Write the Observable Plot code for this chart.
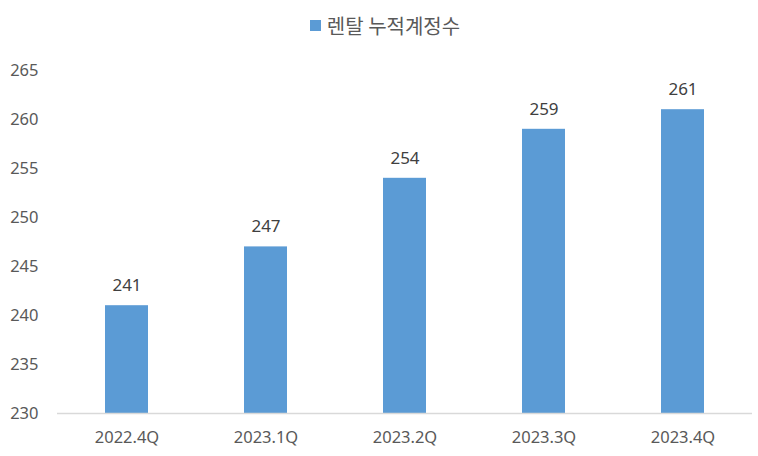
<!DOCTYPE html>
<html><head><meta charset="utf-8">
<script src="https://cdn.jsdelivr.net/npm/d3@7"></script>
<script src="https://cdn.jsdelivr.net/npm/@observablehq/plot@0.6"></script>
<style>
body{margin:0;background:#fff;font-family:"Noto Sans","Noto Sans CJK KR",sans-serif;}
#legend{height:50px;display:flex;align-items:center;justify-content:center;color:#595959;font-size:20px;font-family:"Noto Sans CJK KR",sans-serif;padding-left:12px;}
#legend span.sw{display:inline-block;width:11px;height:11px;background:#5B9BD5;margin-right:6px;}
</style></head>
<body>
<div id="legend"><span class="sw"></span><span>렌탈 누적계정수</span></div>
<div id="chart"></div>
<script>
const categories = ["2022.4Q","2023.1Q","2023.2Q","2023.3Q","2023.4Q"];
const values = [241,247,254,259,261];
const yTicks = [230,235,240,245,250,255,260,265];
const seriesName = "렌탈 누적계정수";
const data = categories.map((c,i)=>({cat:c, v:values[i]}));
const chart = Plot.plot({
  width:758, height:406,
  marginLeft:57, marginRight:6, marginTop:20, marginBottom:43,
  style:{fontSize:"16.5px", color:"#595959", fontFamily:"Noto Sans, sans-serif", background:"#fff"},
  x:{domain:categories, paddingInner:0.69, paddingOuter:0.345, label:null, tickSize:0, tickPadding:18},
  y:{domain:[230,265], ticks:yTicks, label:null, tickSize:0, tickPadding:19},
  marks:[
    Plot.barY(data,{x:"cat", y1:230, y2:"v", fill:"#5B9BD5"}),
    Plot.ruleY([230],{stroke:"#d9d9d9", strokeWidth:1.5}),
    Plot.text(data,{x:"cat", y:"v", text:d=>String(d.v), dy:-20, fill:"#404040", fontSize:17})
  ]
});
document.getElementById("chart").appendChild(chart);
</script>
</body></html>
